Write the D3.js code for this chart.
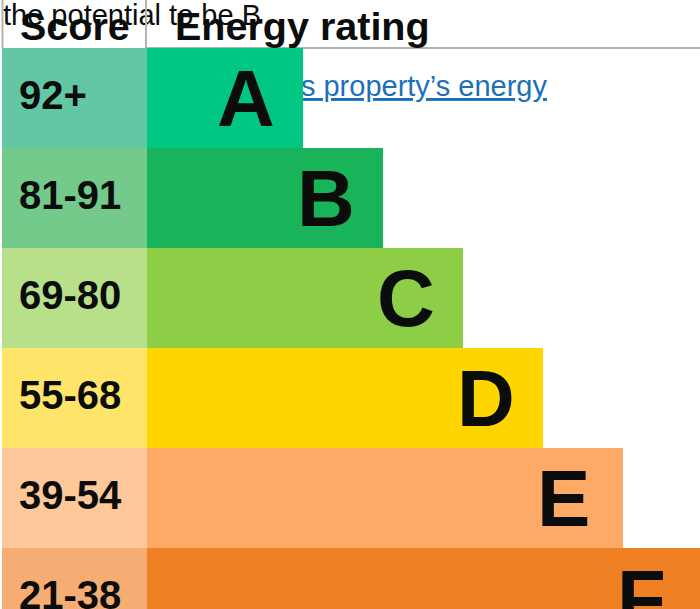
<!DOCTYPE html>
<html>
<head>
<meta charset="utf-8">
<script src="https://cdn.jsdelivr.net/npm/d3@7"></script>
<style>
  html, body { margin: 0; padding: 0; background: #fff; }
  svg { display: block; }
  text { font-family: "Liberation Sans", Arial, sans-serif; }
</style>
</head>
<body>
<svg id="chart" width="700" height="609"></svg>
<script>
// ---- data ----
const bands = ["A", "B", "C", "D", "E", "F"];
const scoreRanges = ["92+", "81-91", "69-80", "55-68", "39-54", "21-38"];
const barLengths = [39, 59, 79, 99, 119, 139];   // relative band bar lengths
const barColors = ["#00c781", "#19b459", "#8dce46", "#ffd500", "#fcaa65", "#ef8023"];
const scoreColors = ["#63c7a4", "#74ca8b", "#b8e08b", "#ffe46a", "#fec89a", "#f5ad73"];
const headers = ["Score", "Energy rating"];
const backText = "the potential to be B";
const linkText = "this property\u2019s energy";

// ---- layout ----
const svg = d3.select("#chart");
const W = 700, headerH = 48, rowH = 100, scoreX0 = 2, scoreX1 = 147;

const y = d3.scaleBand().domain(bands).range([headerH, headerH + rowH * bands.length]).padding(0);
const x = d3.scaleLinear().domain([0, 100]).range([scoreX1, scoreX1 + 400]);

// background text (overlapped by the chart)
svg.append("text")
  .attr("x", 3).attr("y", 25)
  .attr("font-size", 29).attr("fill", "#0b0c0c")
  .text(backText);

svg.append("text")
  .attr("x", 547).attr("y", 96)
  .attr("text-anchor", "end")
  .attr("font-size", 29).attr("fill", "#1d70b8")
  .style("text-decoration", "underline")
  .text(linkText);

// header grid lines
const lineCol = "#b1b4b6";
svg.append("line").attr("x1", 2.5).attr("x2", 2.5).attr("y1", 0).attr("y2", headerH)
  .attr("stroke", lineCol).attr("stroke-width", 2);
svg.append("line").attr("x1", 146).attr("x2", 146).attr("y1", 0).attr("y2", headerH)
  .attr("stroke", lineCol).attr("stroke-width", 2);
svg.append("line").attr("x1", scoreX1).attr("x2", W).attr("y1", headerH).attr("y2", headerH)
  .attr("stroke", lineCol).attr("stroke-width", 2);

// header texts
svg.append("text").attr("x", 20).attr("y", 40)
  .attr("font-size", 39.5).attr("font-weight", "bold").attr("fill", "#0b0c0c")
  .text(headers[0]);
svg.append("text").attr("x", 175).attr("y", 40)
  .attr("font-size", 39.5).attr("font-weight", "bold").attr("fill", "#0b0c0c")
  .text(headers[1]);

// rows
const rows = svg.selectAll("g.row")
  .data(bands.map((b, i) => ({ band: b, score: scoreRanges[i], len: barLengths[i], col: barColors[i], scol: scoreColors[i] })))
  .join("g").attr("class", "row");

rows.append("rect")
  .attr("x", scoreX0).attr("y", d => y(d.band))
  .attr("width", scoreX1 - scoreX0).attr("height", y.bandwidth())
  .attr("fill", d => d.scol);

rows.append("rect")
  .attr("x", x(0)).attr("y", d => y(d.band))
  .attr("width", d => x(d.len) - x(0)).attr("height", y.bandwidth())
  .attr("fill", d => d.col);

rows.append("text")
  .attr("x", 19).attr("y", d => y(d.band) + 61)
  .attr("font-size", 40).attr("font-weight", "bold").attr("fill", "#0b0c0c")
  .text(d => d.score);

rows.append("text")
  .attr("x", d => x(d.len) - 86).attr("y", d => y(d.band) + 78)
  .attr("font-size", 80).attr("font-weight", "bold").attr("fill", "#0b0c0c")
  .text(d => d.band);
</script>
</body>
</html>
